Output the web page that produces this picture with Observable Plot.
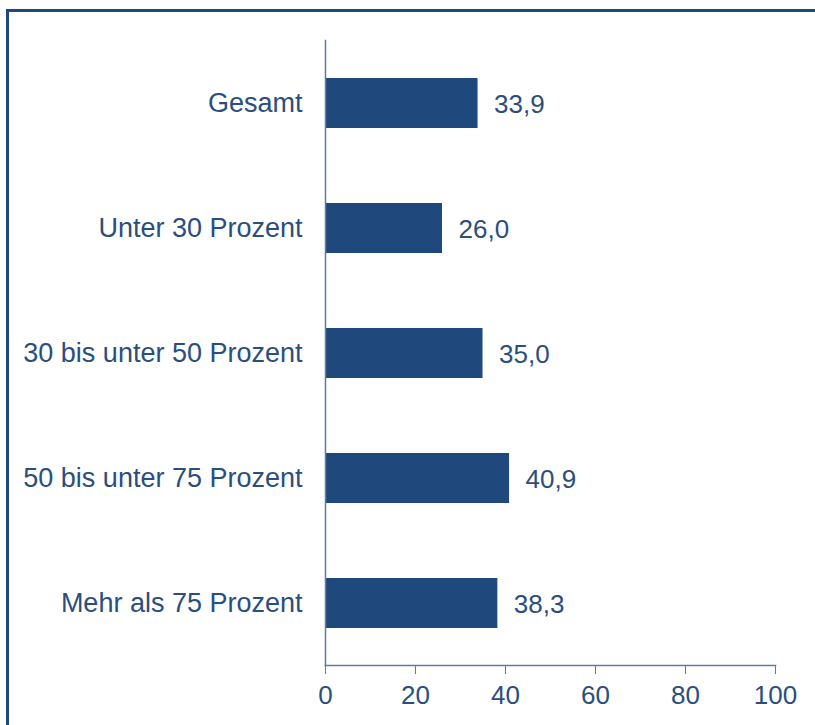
<!DOCTYPE html>
<html>
<head>
<meta charset="utf-8">
<script src="https://cdn.jsdelivr.net/npm/d3@7"></script>
<script src="https://cdn.jsdelivr.net/npm/@observablehq/plot@0.6"></script>
<style>
  html, body { margin: 0; padding: 0; background: #fff; }
  #wrap { position: relative; width: 815px; height: 725px; overflow: hidden; }
  #border { position: absolute; left: 6px; top: 9px; width: 900px; height: 900px;
            border-left: 3px solid #1F497D; border-top: 3px solid #1F497D; box-sizing: border-box; }
  #chart { position: absolute; left: 0; top: 0; }
</style>
</head>
<body>
<div id="wrap"><div id="border"></div><div id="chart"></div></div>
<script>
const categories = ["Gesamt", "Unter 30 Prozent", "30 bis unter 50 Prozent", "50 bis unter 75 Prozent", "Mehr als 75 Prozent"];
const values = [33.9, 26.0, 35.0, 40.9, 38.3];
const xTicks = [0, 20, 40, 60, 80, 100];

const data = categories.map((c, i) => ({category: c, value: values[i]}));
const fmt = v => v.toFixed(1).replace(".", ",");

const barColor = "#1F497D";
const textColor = "#2A4E7E";
const axisColor = "#5B7CA3";

const chart = Plot.plot({
  width: 815,
  height: 725,
  marginLeft: 325,
  marginRight: 40,
  marginTop: 40,
  marginBottom: 60,
  style: { fontFamily: "Liberation Sans, Arial, sans-serif", background: "transparent", color: textColor },
  x: { domain: [0, 100] },
  y: { domain: categories, paddingInner: 0.6, paddingOuter: 0.3 },
  marks: [
    Plot.barX(data, { x: "value", y: "category", fill: barColor }),
    Plot.text(data, { x: "value", y: "category", text: d => fmt(d.value), textAnchor: "start", dx: 16, dy: 1, fontSize: 26, fill: textColor }),
    Plot.frame({ anchor: "left", stroke: axisColor, strokeWidth: 1.5 }),
    Plot.frame({ anchor: "bottom", stroke: axisColor, strokeWidth: 1.5 }),
    Plot.axisX({ ticks: xTicks, tickFormat: d => String(d), tickSize: 9, tickPadding: 11, fontSize: 26, stroke: axisColor, fill: textColor, label: null }),
    Plot.axisY({ tickSize: 0, tickPadding: 23, fontSize: 27, fill: textColor, label: null })
  ]
});
document.getElementById("chart").appendChild(chart);
</script>
</body>
</html>
